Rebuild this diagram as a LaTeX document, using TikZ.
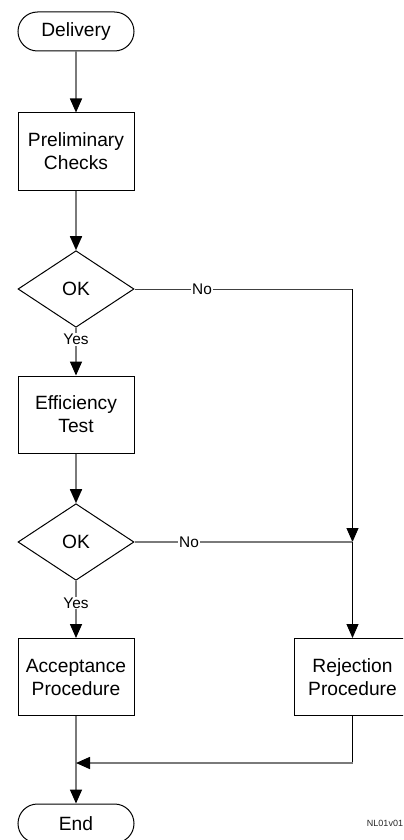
\documentclass[tikz,border=0pt]{standalone}
\usepackage{fontspec}
\setmainfont{Liberation Sans}
\usetikzlibrary{arrows.meta,shapes.geometric}
\definecolor{flowgray}{HTML}{7A7A7A}
\begin{document}
\begin{tikzpicture}[x=0.5pt,y=-0.5pt,
  txt/.style={font=\fontsize{9.6}{11.5}\selectfont},
  box/.style={txt,draw=black,line width=0.5pt,minimum width=58pt,minimum height=38.5pt,inner sep=0pt,align=center},
  term/.style={txt,draw=black,line width=0.5pt,rounded corners=9.75pt,minimum width=58pt,minimum height=19.5pt,inner sep=0pt},
  dec/.style={txt,diamond,draw=black,line width=0.5pt,minimum width=58pt,minimum height=38.3pt,inner sep=0pt},
  tipa/.style={-{Triangle[width=6pt,length=7pt,color=black]}},
  gl/.style={draw=flowgray,line width=0.8pt},
  bl/.style={draw=black,line width=0.5pt},
  dl/.style={draw=black!75,line width=0.5pt},
  lbl/.style={font=\fontsize{7.7}{9}\selectfont,fill=white,inner sep=0.4pt}
]
\useasboundingbox (0,0) rectangle (403,840);
\clip (0,0) rectangle (403,840);

\node[term] (deliv) at (76,31.5) {Delivery};
\node[box] (prelim) at (76,151.5) {Preliminary\\Checks};
\node[dec] (ok1) at (76,289) {OK};
\node[box] (eff) at (76,414.5) {Efficiency\\Test};
\node[dec] (ok2) at (76,542) {OK};
\node[box] (acc) at (76,677) {Acceptance\\Procedure};
\node[box] (rej) at (352.5,677) {Rejection\\Procedure};
\node[term] (endn) at (76,823.5) {End};
\node[font=\fontsize{4.5}{5}\selectfont,text=black!85] (stamp) at (385,823) {NL01v01};

\coordinate (c1) at (352.5,289);
\coordinate (j2) at (352.5,542);
\coordinate (c3) at (352.5,763);
\coordinate (j3) at (76,763);

\draw[gl,tipa] (deliv) -- (prelim);
\draw[gl,tipa] (prelim) -- (ok1);
\draw[gl,tipa] (ok1.south) -- node[lbl,pos=0.245] {Yes} (eff.north);
\draw[gl,tipa] (eff) -- (ok2);
\draw[gl,tipa] (ok2.south) -- node[lbl,pos=0.39] {Yes} (acc.north);
\draw[gl,tipa] (acc) -- (endn);

\draw[dl] (ok1.east) -- node[lbl,pos=0.31] {No} (c1);
\draw[bl,tipa] (c1) -- (j2);
\draw[gl] (ok2.east) -- node[lbl,pos=0.25] {No} (j2);
\draw[bl,tipa] (j2) -- (rej.north);
\draw[bl] (rej.south) -- (c3);
\draw[gl,tipa] (c3) -- (j3);
\end{tikzpicture}
\end{document}
